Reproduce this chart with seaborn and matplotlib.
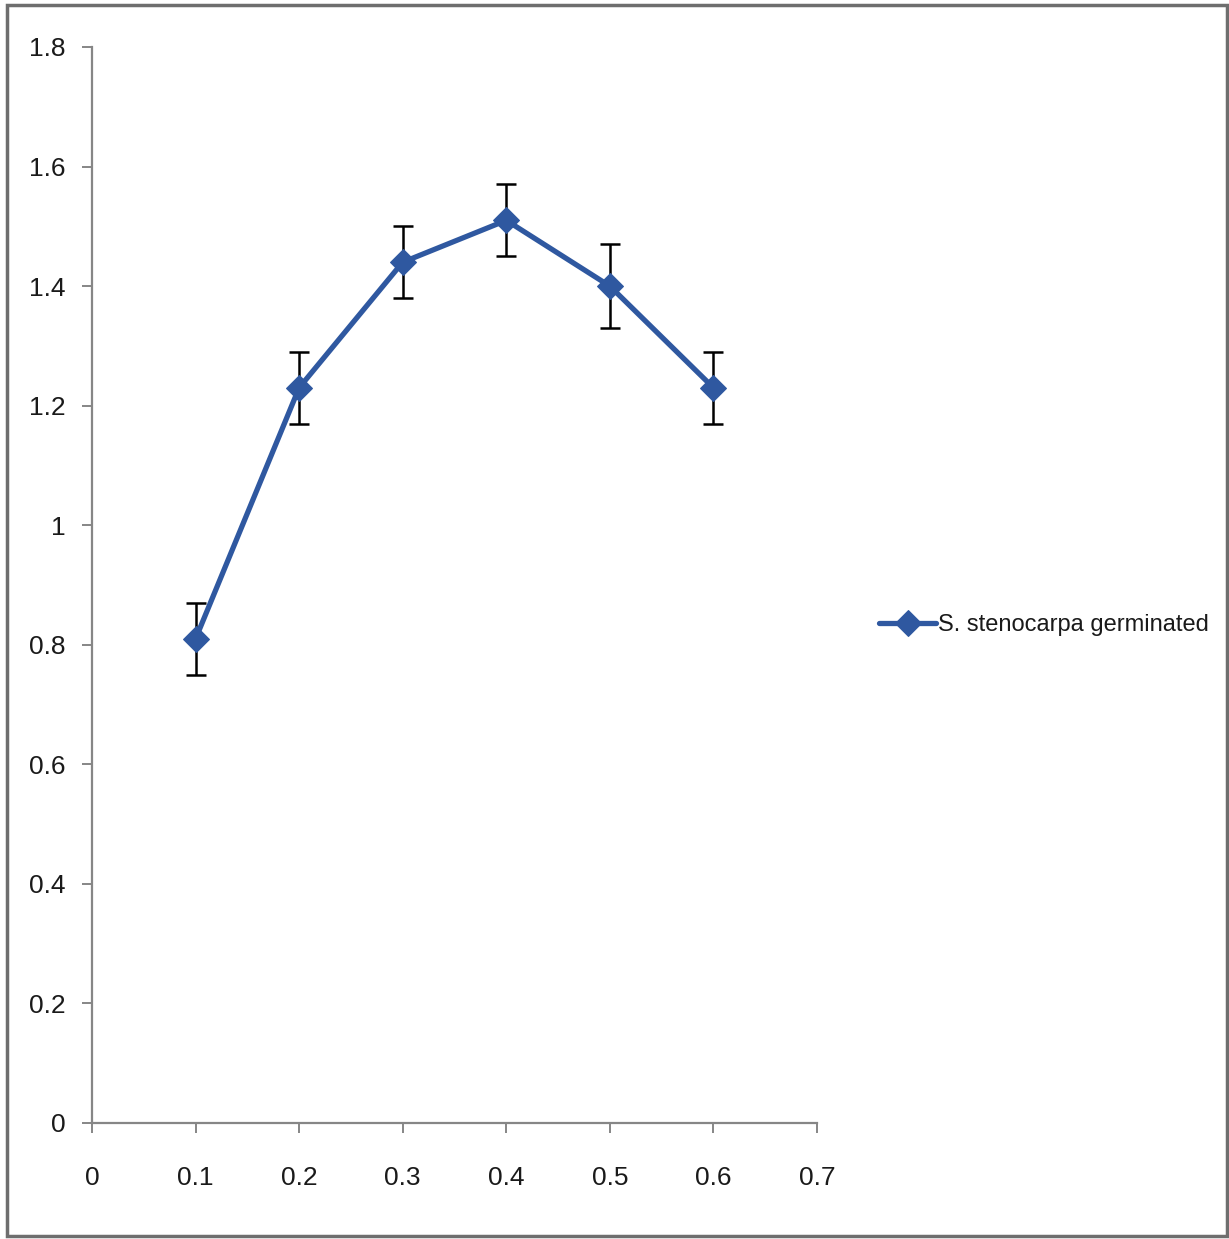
import matplotlib
matplotlib.use("Agg")
import matplotlib.pyplot as plt
from matplotlib.patches import Rectangle
import seaborn as sns
import pandas as pd

# Germination data
concentration = [0.1, 0.2, 0.3, 0.4, 0.5, 0.6]
germinated = [0.81, 1.23, 1.44, 1.51, 1.40, 1.23]
error = [0.06, 0.06, 0.06, 0.06, 0.07, 0.06]
series_label = "S. stenocarpa germinated"
x_ticks = [0, 0.1, 0.2, 0.3, 0.4, 0.5, 0.6, 0.7]
y_ticks = [0, 0.2, 0.4, 0.6, 0.8, 1.0, 1.2, 1.4, 1.6, 1.8]
y_tick_labels = ["0", "0.2", "0.4", "0.6", "0.8", "1", "1.2", "1.4", "1.6", "1.8"]
x_tick_labels = ["0", "0.1", "0.2", "0.3", "0.4", "0.5", "0.6", "0.7"]

df = pd.DataFrame({"x": concentration, "y": germinated, "err": error})

sns.set_theme(style="white")
plt.rcParams["font.family"] = ["Liberation Sans", "DejaVu Sans"]

W, H = 1229, 1239
fig = plt.figure(figsize=(W / 100, H / 100), dpi=100)
ax = fig.add_axes([92 / W, 1 - 1123 / H, (817 - 92) / W, (1123 - 47) / H])

line_color = "#2F58A0"
axis_color = "#868686"

ax.errorbar(df["x"], df["y"], yerr=df["err"], fmt="none", ecolor="black",
            elinewidth=1.8, capsize=7, capthick=1.8, zorder=2)
sns.lineplot(data=df, x="x", y="y", ax=ax, color=line_color, linewidth=3.8,
             marker="D", markersize=13, markeredgecolor=line_color,
             label=series_label, zorder=3)

ax.set_xlim(0, 0.7)
ax.set_ylim(0, 1.8)
ax.set_xticks(x_ticks)
ax.set_xticklabels(x_tick_labels)
ax.set_yticks(y_ticks)
ax.set_yticklabels(y_tick_labels)
ax.set_xlabel("")
ax.set_ylabel("")

for side in ["top", "right"]:
    ax.spines[side].set_visible(False)
for side in ["left", "bottom"]:
    ax.spines[side].set_color(axis_color)
    ax.spines[side].set_linewidth(1.6)

ax.tick_params(axis="both", which="major", direction="out", length=7, width=1.4,
               color=axis_color, labelsize=19, labelcolor="#1a1a1a")
ax.tick_params(axis="x", pad=24)
ax.tick_params(axis="y", pad=12)
ax.tick_params(bottom=True, left=True)

leg = ax.legend(loc="center left", bbox_to_anchor=(870 / W, 1 - 625 / H),
                bbox_transform=fig.transFigure, frameon=False, fontsize=17,
                handlelength=2.4, handletextpad=0.1, borderaxespad=0)
for t in leg.get_texts():
    t.set_color("#1a1a1a")

# Outer frame around the chart area
fig.patches.append(Rectangle((7 / W, 3 / H), (1227 - 7) / W, (1234 - 3) / H,
                             transform=fig.transFigure, fill=False,
                             edgecolor="#6e6e6e", linewidth=2.5, zorder=10))

fig.savefig("out.png", dpi=100)
